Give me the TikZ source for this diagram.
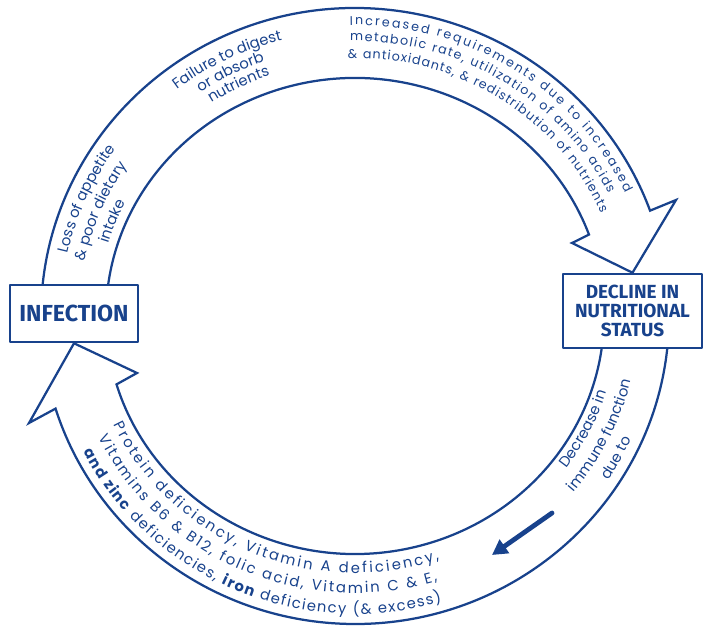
\documentclass[tikz,border=0pt]{standalone}
\usepackage{fontspec}
\setmainfont{Poppins}
\newfontfamily\boxfont{Fira Sans}
\usepackage{xcolor}
\usetikzlibrary{arrows.meta,decorations.text}
\definecolor{inkblue}{RGB}{24,66,140}

\pgfdeclarelayer{background}
\pgfsetlayers{background,main}

\tikzset{
  ringline/.style={draw=inkblue, line width=1.6pt},
  ringtext/.style={decorate, decoration={text along path, text color=inkblue, #1}},
  statebox/.style={draw=inkblue, line width=1.8pt, fill=white, text=inkblue, inner sep=0pt, align=center},
}

\begin{document}
\begin{tikzpicture}[x=0.025cm, y=0.025cm, >=Stealth, line cap=round, line join=round]
\useasboundingbox (0,0) rectangle (703,625);

% Centre of the ring
\coordinate (c) at (355,309);

% Boxes
\node[statebox, minimum width=3.2cm, minimum height=1.425cm,
      font=\boxfont\bfseries\fontsize{16.5}{17}\selectfont] (infection) at (74,311.5) {INFECTION};
\node[statebox, minimum width=3.475cm, minimum height=1.85cm,
      font=\boxfont\bfseries\fontsize{13.5}{13.5}\selectfont] (decline) at (632.5,314) {DECLINE IN\\NUTRITIONAL\\STATUS};

\begin{pgfonlayer}{background}
% Upper band: infection to decline
\draw[ringline] ([shift={(176:314 and 308)}]c) arc[start angle=176, end angle=20, x radius=314, y radius=308]
  -- (676,425) -- (decline.north) -- (572,382)
  -- ([shift={(20:249 and 238)}]c) arc[start angle=20, end angle=175, x radius=249, y radius=238];

% Lower band: decline to infection
\draw[ringline] ([shift={(-4:314 and 308)}]c) arc[start angle=-4, end angle=-162.5, x radius=314, y radius=308]
  -- (29,202) -- (infection.south) -- (137,252)
  -- ([shift={(-163.3:249 and 238)}]c) arc[start angle=-163.3, end angle=-5, x radius=249, y radius=238];

% Texts, upper left
\begin{scope}
\fontsize{10.5}{12.5}\selectfont
\path[ringtext={text={Loss of appetite}, text align=center}]
  ([shift={(181:294 and 287)}]c) arc[start angle=181, end angle=131, x radius=294, y radius=287];
\path[ringtext={text={{\&} poor dietary}, text align=center}]
  ([shift={(182:276 and 267)}]c) arc[start angle=182, end angle=132, x radius=276, y radius=267];
\path[ringtext={text={intake}, text align=center}]
  ([shift={(183:258 and 248)}]c) arc[start angle=183, end angle=133, x radius=258, y radius=248];

\path[ringtext={text={Failure to digest}, text align=center}]
  ([shift={(141:293 and 285)}]c) arc[start angle=141, end angle=91, x radius=293, y radius=285];
\path[ringtext={text={or absorb}, text align=center}]
  ([shift={(141.5:278 and 269)}]c) arc[start angle=141.5, end angle=91.5, x radius=278, y radius=269];
\path[ringtext={text={nutrients}, text align=center}]
  ([shift={(141:264 and 254)}]c) arc[start angle=141, end angle=91, x radius=264, y radius=254];
\end{scope}

% Texts, upper right
\begin{scope}
\fontsize{9}{11}\selectfont
\path[ringtext={text={Increased requirements due to increased}, text align=fit to path}]
  ([shift={(91:298 and 291)}]c) arc[start angle=91, end angle=25, x radius=298, y radius=291];
\path[ringtext={text={metabolic rate, utilization of amino acids}, text align=fit to path}]
  ([shift={(91:283 and 275)}]c) arc[start angle=91, end angle=26.5, x radius=283, y radius=275];
\path[ringtext={text={{\&} antioxidants, {\&} redistribution of nutrients}, text align=fit to path}]
  ([shift={(91.5:268 and 258)}]c) arc[start angle=91.5, end angle=23.5, x radius=268, y radius=258];
\end{scope}

% Texts, lower right
\begin{scope}
\fontsize{10.5}{12.5}\selectfont
\path[ringtext={text={Decrease in}, text align=center}]
  ([shift={(-52:264 and 254)}]c) arc[start angle=-52, end angle=-2, x radius=264, y radius=254];
\path[ringtext={text={immune function}, text align=center}]
  ([shift={(-51.5:284 and 276)}]c) arc[start angle=-51.5, end angle=-1.5, x radius=284, y radius=276];
\path[ringtext={text={due to}, text align=center}]
  ([shift={(-54:304 and 297)}]c) arc[start angle=-54, end angle=-4, x radius=304, y radius=297];
\end{scope}

% Texts, lower left
\begin{scope}
\fontsize{10.5}{12.5}\selectfont
\path[ringtext={text={Protein deficiency, Vitamin A deficiency,}, text align=fit to path}]
  ([shift={(205:266 and 257)}]c) arc[start angle=205, end angle=288.4, x radius=266, y radius=257];
\path[ringtext={text={Vitamins B6 {\&} B12, folic acid, Vitamin C {\&} E,}, text align=fit to path}]
  ([shift={(206:285 and 277)}]c) arc[start angle=206, end angle=286.8, x radius=285, y radius=277];
\path[ringtext={text={|\bfseries|and zinc|\mdseries| deficiencies, |\bfseries|iron|\mdseries| deficiency ({\&} excess)}, text align=fit to path}]
  ([shift={(207:305 and 298)}]c) arc[start angle=207, end angle=286.5, x radius=305, y radius=298];
\end{scope}
\end{pgfonlayer}

% Small arrow in the lower band
\coordinate (smallfrom) at (552,112);
\coordinate (smallto) at (492,70);
\draw[inkblue, line width=3.4pt, -{Triangle[length=0.38cm, width=0.4cm]}] (smallfrom) -- (smallto);

\end{tikzpicture}
\end{document}
